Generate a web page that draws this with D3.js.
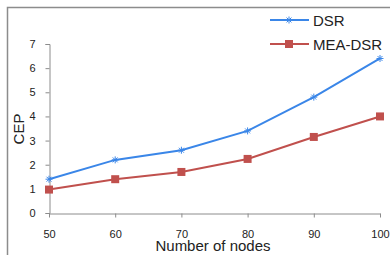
<!DOCTYPE html>
<html>
<head>
<meta charset="utf-8">
<script src="https://cdn.jsdelivr.net/npm/d3@7"></script>
<style>
  body { margin: 0; background: #fff; }
  svg { display: block; font-family: "Liberation Sans", Arial, sans-serif; }
</style>
</head>
<body>
<div id="chart"></div>
<script>
// categories and series
const nodes = [50, 60, 70, 80, 90, 100];
const dsr = [1.4, 2.2, 2.6, 3.4, 4.8, 6.4];
const meaDsr = [0.97, 1.4, 1.7, 2.24, 3.15, 4.0];
const yTicks = [0, 1, 2, 3, 4, 5, 6, 7];

const W = 390, H = 255;

const svg = d3.select("#chart")
    .append("svg")
    .attr("width", W)
    .attr("height", H);

// outer frame (runs off the right and bottom edges)
svg.append("rect")
    .attr("x", 7.5).attr("y", 7.5)
    .attr("width", 400).attr("height", 300)
    .attr("fill", "none")
    .attr("stroke", "#8c8c8c")
    .attr("stroke-width", 1.5);

const x = d3.scaleLinear().domain([50, 100]).range([49, 380]);
const y = d3.scaleLinear().domain([0, 7]).range([213, 44]);

const axisColor = "#8c8c8c";

// y axis
const yAxis = svg.append("g")
    .attr("transform", "translate(49.5,0)")
    .call(d3.axisLeft(y).tickValues(yTicks).tickSize(4).tickPadding(10).tickFormat(d3.format("d")));
yAxis.select(".domain").attr("stroke", axisColor);
yAxis.selectAll(".tick line").attr("stroke", axisColor);
yAxis.selectAll("text").attr("font-size", 11).attr("fill", "#222").attr("font-family", "Liberation Sans, Arial, sans-serif");

// x axis
const xAxis = svg.append("g")
    .attr("transform", "translate(0,213.5)")
    .call(d3.axisBottom(x).tickValues(nodes).tickSize(4).tickSizeOuter(0).tickPadding(13).tickFormat(d3.format("d")));
xAxis.select(".domain").attr("stroke", axisColor);
xAxis.selectAll(".tick line").attr("stroke", axisColor);
xAxis.selectAll("text").attr("font-size", 11).attr("fill", "#222").attr("font-family", "Liberation Sans, Arial, sans-serif");

// axis titles
svg.append("text")
    .attr("transform", "translate(24,129) rotate(-90)")
    .attr("text-anchor", "middle")
    .attr("font-size", 15)
    .attr("fill", "#222")
    .text("CEP");

svg.append("text")
    .attr("x", 213).attr("y", 251)
    .attr("text-anchor", "middle")
    .attr("font-size", 15)
    .attr("fill", "#222")
    .text("Number of nodes");

const blue = "#3a86e8";
const red = "#c0504d";

const line = d3.line().x((d, i) => x(nodes[i])).y(d => y(d));

// DSR series
svg.append("path")
    .datum(dsr)
    .attr("d", line)
    .attr("fill", "none")
    .attr("stroke", blue)
    .attr("stroke-width", 2);

const star = d3.symbol().type(d3.symbolAsterisk || d3.symbolCross).size(40);
function drawStar(g, cx, cy) {
    const s = 3.5;
    g.append("path")
        .attr("d", `M${cx - s},${cy}L${cx + s},${cy}M${cx},${cy - s}L${cx},${cy + s}` +
                   `M${cx - s * 0.7},${cy - s * 0.7}L${cx + s * 0.7},${cy + s * 0.7}` +
                   `M${cx - s * 0.7},${cy + s * 0.7}L${cx + s * 0.7},${cy - s * 0.7}`)
        .attr("stroke", blue)
        .attr("stroke-width", 1);
}
dsr.forEach((v, i) => drawStar(svg, x(nodes[i]), y(v)));

// MEA-DSR series
svg.append("path")
    .datum(meaDsr)
    .attr("d", line)
    .attr("fill", "none")
    .attr("stroke", red)
    .attr("stroke-width", 2);

svg.selectAll(".sq")
    .data(meaDsr)
    .join("rect")
    .attr("class", "sq")
    .attr("x", (d, i) => x(nodes[i]) - 4)
    .attr("y", d => y(d) - 4)
    .attr("width", 8)
    .attr("height", 8)
    .attr("fill", red);

// legend
const leg = svg.append("g");
leg.append("line").attr("x1", 270).attr("x2", 309).attr("y1", 20).attr("y2", 20)
    .attr("stroke", blue).attr("stroke-width", 2);
drawStar(leg, 289, 20);
leg.append("text").attr("x", 313).attr("y", 25.5).attr("font-size", 15).attr("fill", "#222").text("DSR");

leg.append("line").attr("x1", 270).attr("x2", 309).attr("y1", 44).attr("y2", 44)
    .attr("stroke", red).attr("stroke-width", 2);
leg.append("rect").attr("x", 285).attr("y", 40).attr("width", 8).attr("height", 8).attr("fill", red);
leg.append("text").attr("x", 313).attr("y", 49.5).attr("font-size", 15).attr("fill", "#222").text("MEA-DSR");
</script>
</body>
</html>
